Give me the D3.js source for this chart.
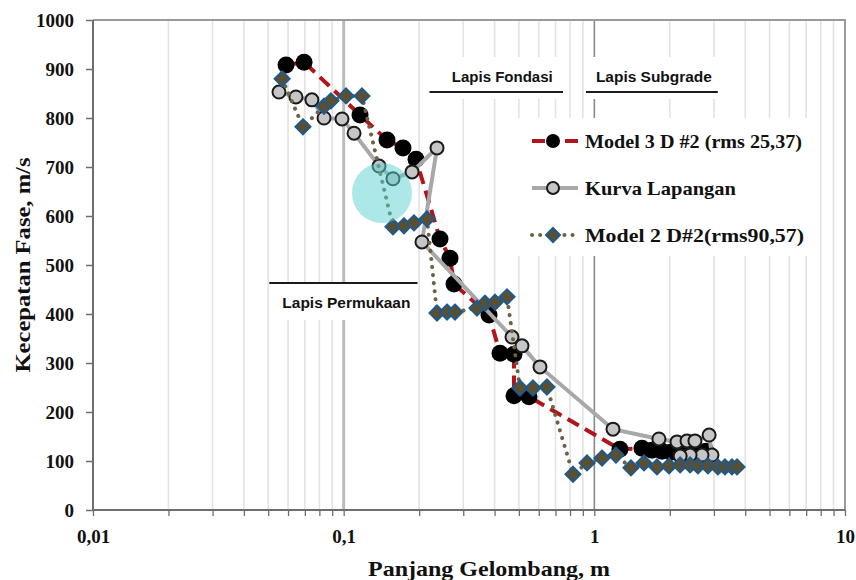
<!DOCTYPE html>
<html>
<head>
<meta charset="utf-8">
<script src="https://cdn.jsdelivr.net/npm/d3@7"></script>
<style>
  html, body { margin: 0; padding: 0; background: #fff; }
  svg { display: block; }
</style>
</head>
<body>
<svg id="chart" width="856" height="580"></svg>
<script>
// Wavelength (m) and phase velocity (m/s) for each series
const model3Wave = [0.0589, 0.0695, 0.1162, 0.1489, 0.1725, 0.1944, 0.2423, 0.2656, 0.2755, 0.380, 0.4204, 0.478, 0.478, 0.5487, 1.265, 1.549, 1.698, 1.862, 2.02, 2.22, 2.50, 2.79];
const model3Vel  = [908, 914, 806, 755, 739, 716, 553, 514, 461, 398, 320, 318, 233, 231, 124, 126, 122, 120, 118, 116, 118, 120];

const fieldWave = [0.0552, 0.0645, 0.0747, 0.0835, 0.0985, 0.110, 0.1384, 0.1573, 0.1874, 0.2357, 0.2053, 0.4694, 0.5146, 0.607, 1.187, 1.81, 2.137, 2.343, 2.52, 2.87, 2.947, 2.688, 2.41, 2.20];
const fieldVel  = [853, 843, 837, 800, 798, 769, 702, 676, 690, 739, 547, 353, 335, 292, 165, 145, 139, 141, 141, 153, 112, 112, 112, 110];

const model2Wave = [0.0568, 0.0688, 0.0835, 0.089, 0.1022, 0.1183, 0.1573, 0.174, 0.1908, 0.215, 0.2357, 0.2584, 0.278, 0.3403, 0.3663, 0.4016, 0.4484, 0.505, 0.569, 0.647, 0.822, 0.935, 1.073, 1.22, 1.40, 1.578, 1.778, 1.986, 2.20, 2.41, 2.59, 2.84, 3.11, 3.32, 3.54, 3.71];
const model2Vel  = [880, 782, 824, 835, 845, 845, 578, 580, 586, 594, 402, 404, 404, 412, 422, 424, 435, 249, 249, 251, 73, 96, 106, 112, 86, 96, 88, 90, 92, 92, 90, 90, 88, 88, 88, 88];

const xTickValues = [0.01, 0.1, 1, 10];
const xTickLabels = ["0,01", "0,1", "1", "10"];
const yTickValues = [0, 100, 200, 300, 400, 500, 600, 700, 800, 900, 1000];

const legendLabels = ["Model 3 D #2 (rms 25,37)", "Kurva Lapangan", "Model 2 D#2(rms90,57)"];
const layerLabels = ["Lapis Permukaan", "Lapis Fondasi", "Lapis Subgrade"];
const layerRanges = [[0.0505, 0.197], [0.22, 0.75], [0.926, 3.11]];

const xTitle = "Panjang Gelombang, m";
const yTitle = "Kecepatan Fase, m/s";

// Layout
const plotLeft = 93, plotRight = 845, plotTop = 20, plotBottom = 510;
const svg = d3.select("#chart");
const x = d3.scaleLog().domain([0.01, 10]).range([plotLeft, plotRight]);
const y = d3.scaleLinear().domain([0, 1000]).range([plotBottom, plotTop]);

const serif = "'Liberation Serif', 'Times New Roman', serif";
const sans = "'Liberation Sans', Arial, sans-serif";

// Vertical grid lines at every log step
const minorTicks = [];
[0.01, 0.1, 1].forEach(d => { for (let k = 2; k <= 9; k++) minorTicks.push(d * k); });
svg.append("g").selectAll("line").data(minorTicks).join("line")
  .attr("x1", d => x(d)).attr("x2", d => x(d))
  .attr("y1", plotTop).attr("y2", plotBottom)
  .attr("stroke", "#e3e3e3").attr("stroke-width", 1.6);
svg.append("line").attr("x1", x(0.1)).attr("x2", x(0.1)).attr("y1", plotTop).attr("y2", plotBottom)
  .attr("stroke", "#bcbcbc").attr("stroke-width", 3);
svg.append("line").attr("x1", x(1)).attr("x2", x(1)).attr("y1", plotTop).attr("y2", plotBottom)
  .attr("stroke", "#8a8a8a").attr("stroke-width", 1.6);

// Plot frame (top and right)
svg.append("path")
  .attr("d", `M${plotLeft},${plotTop}H${plotRight}V${plotBottom}`)
  .attr("fill", "none").attr("stroke", "#9a9a9a").attr("stroke-width", 2);

// Layer annotations with white backing boxes
function layerNote(i, lineY, textY, boxY0, boxY1, dx, width) {
  const [a, b] = layerRanges[i];
  const x0 = x(a), x1 = x(b);
  svg.append("rect").attr("x", x0).attr("y", boxY0).attr("width", x1 - x0).attr("height", boxY1 - boxY0)
    .attr("fill", "#fff");
  svg.append("line").attr("x1", x0).attr("x2", x1).attr("y1", lineY).attr("y2", lineY)
    .attr("stroke", "#1a1a1a").attr("stroke-width", 1.8);
  svg.append("text").attr("x", (x0 + x1) / 2 + dx).attr("y", textY)
    .attr("text-anchor", "middle")
    .attr("font-family", sans).attr("font-weight", "bold").attr("font-size", 14)
    .attr("textLength", width).attr("lengthAdjust", "spacingAndGlyphs")
    .attr("fill", "#111").text(layerLabels[i]);
}
layerNote(0, 283, 308, 284, 320, 3, 128);
layerNote(1, 92, 82, 57, 99, 6, 101);
layerNote(2, 92, 82, 57, 99, 2, 116);

// Legend backing box
svg.append("rect").attr("x", 516).attr("y", 118).attr("width", 298).attr("height", 138).attr("fill", "#fff");

// Axes lines and ticks
svg.append("line").attr("x1", plotLeft).attr("x2", plotLeft).attr("y1", plotTop).attr("y2", plotBottom)
  .attr("stroke", "#6e6e6e").attr("stroke-width", 2);
svg.append("line").attr("x1", plotLeft).attr("x2", plotRight).attr("y1", plotBottom).attr("y2", plotBottom)
  .attr("stroke", "#6e6e6e").attr("stroke-width", 2);

const yAxis = d3.axisLeft(y).tickValues(yTickValues).tickSize(7).tickPadding(12).tickFormat(d3.format("d"));
const gy = svg.append("g").attr("transform", `translate(${plotLeft},0)`).call(yAxis);
gy.select(".domain").remove();
gy.selectAll("line").attr("stroke", "#6e6e6e").attr("stroke-width", 1.5);
gy.selectAll("text").attr("font-family", serif).attr("font-weight", "bold").attr("font-size", 19)
  .attr("fill", "#111");

const xAxisMinor = d3.axisBottom(x).tickValues(minorTicks.concat(xTickValues)).tickSize(6).tickFormat("");
const gxm = svg.append("g").attr("transform", `translate(0,${plotBottom})`).call(xAxisMinor);
gxm.select(".domain").remove();
gxm.selectAll("line").attr("stroke", "#6e6e6e").attr("stroke-width", 1.3);

const xAxis = d3.axisBottom(x).tickValues(xTickValues).tickSize(0).tickPadding(20)
  .tickFormat((d, i) => xTickLabels[i]);
const gx = svg.append("g").attr("transform", `translate(0,${plotBottom})`).call(xAxis);
gx.select(".domain").remove();
gx.selectAll("text").attr("font-family", serif).attr("font-weight", "bold").attr("font-size", 19)
  .attr("fill", "#111");

// Axis titles
svg.append("text").attr("x", 489).attr("y", 576).attr("text-anchor", "middle")
  .attr("font-family", serif).attr("font-weight", "bold").attr("font-size", 22)
  .attr("textLength", 242).attr("lengthAdjust", "spacingAndGlyphs")
  .attr("fill", "#111").text(xTitle);
svg.append("text").attr("transform", "translate(30,265) rotate(-90)").attr("text-anchor", "middle")
  .attr("font-family", serif).attr("font-weight", "bold").attr("font-size", 22)
  .attr("textLength", 215).attr("lengthAdjust", "spacingAndGlyphs")
  .attr("fill", "#111").text(yTitle);

// Series
const line = d3.line().x(d => x(d[0])).y(d => y(d[1]));
const model3 = model3Wave.map((w, i) => [w, model3Vel[i]]);
const field = fieldWave.map((w, i) => [w, fieldVel[i]]);
const model2 = model2Wave.map((w, i) => [w, model2Vel[i]]);

const diamond = r => `M0,${-r}L${r},0L0,${r}L${-r},0Z`;

// Model 3 D: black circles, red dashed line
svg.append("path").datum(model3).attr("d", line).attr("fill", "none")
  .attr("stroke", "#b3141a").attr("stroke-width", 4).attr("stroke-dasharray", "13,7");
svg.append("g").selectAll("circle").data(model3).join("circle")
  .attr("cx", d => x(d[0])).attr("cy", d => y(d[1])).attr("r", 8.5).attr("fill", "#000");

// Field curve: grey circles, grey solid line
svg.append("path").datum(field).attr("d", line).attr("fill", "none")
  .attr("stroke", "#a8a8a8").attr("stroke-width", 4);
svg.append("g").selectAll("circle").data(field).join("circle")
  .attr("cx", d => x(d[0])).attr("cy", d => y(d[1])).attr("r", 6.5)
  .attr("fill", "#c6c6c6").attr("stroke", "#1a1a1a").attr("stroke-width", 2);

// Model 2 D: diamonds, olive dotted line
svg.append("path").datum(model2).attr("d", line).attr("fill", "none")
  .attr("stroke", "#6b6345").attr("stroke-width", 4).attr("stroke-linecap", "round")
  .attr("stroke-dasharray", "0.1,8");
svg.append("g").selectAll("path").data(model2).join("path")
  .attr("transform", d => `translate(${x(d[0])},${y(d[1])})`)
  .attr("d", diamond(7.5)).attr("fill", "#5b4f2f").attr("stroke", "#1f5a8c").attr("stroke-width", 2);

// Highlight circle
svg.append("circle").attr("cx", 382).attr("cy", 193).attr("r", 30)
  .attr("fill", "#5ad2d2").attr("fill-opacity", 0.5);

// Legend entries
const legY = [141, 188, 235];
const lx0 = 532, lx1 = 578, lxm = 553;
const lg = svg.append("g");
lg.append("line").attr("x1", lx0).attr("x2", lx1).attr("y1", legY[0]).attr("y2", legY[0])
  .attr("stroke", "#b3141a").attr("stroke-width", 4).attr("stroke-dasharray", "13,20");
lg.append("circle").attr("cx", lxm).attr("cy", legY[0]).attr("r", 7).attr("fill", "#000");
lg.append("line").attr("x1", lx0).attr("x2", lx1).attr("y1", legY[1]).attr("y2", legY[1])
  .attr("stroke", "#a8a8a8").attr("stroke-width", 4);
lg.append("circle").attr("cx", lxm).attr("cy", legY[1]).attr("r", 6)
  .attr("fill", "#c6c6c6").attr("stroke", "#1a1a1a").attr("stroke-width", 2);
lg.append("line").attr("x1", lx0).attr("x2", lx1 + 2).attr("y1", legY[2]).attr("y2", legY[2])
  .attr("stroke", "#6b6345").attr("stroke-width", 4).attr("stroke-linecap", "round")
  .attr("stroke-dasharray", "0.1,8");
lg.append("path").attr("transform", `translate(${lxm},${legY[2]})`).attr("d", diamond(7))
  .attr("fill", "#5b4f2f").attr("stroke", "#1f5a8c").attr("stroke-width", 2);
const legWidths = [217, 151, 219];
lg.selectAll("text").data(legendLabels).join("text")
  .attr("x", 585).attr("y", (d, i) => legY[i] + 7)
  .attr("font-family", serif).attr("font-weight", "bold").attr("font-size", 19)
  .attr("textLength", (d, i) => legWidths[i]).attr("lengthAdjust", "spacingAndGlyphs")
  .attr("fill", "#111").text(d => d);
</script>
</body>
</html>
